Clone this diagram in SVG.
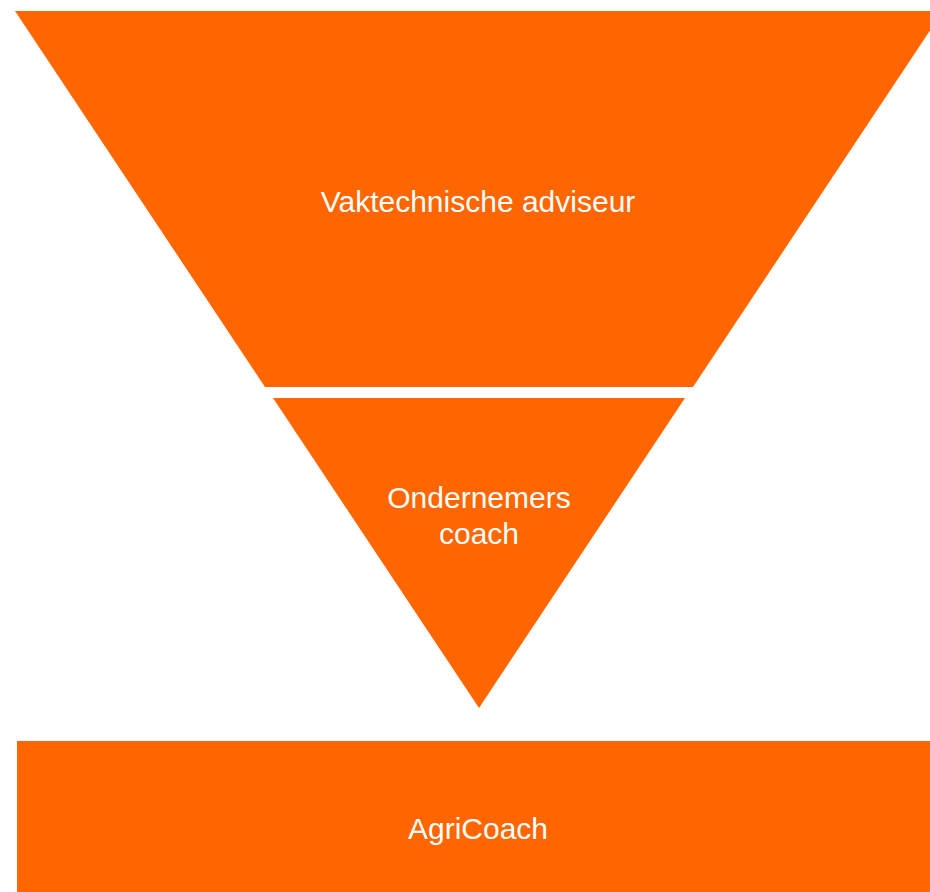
<svg xmlns="http://www.w3.org/2000/svg" width="930" height="892" viewBox="0 0 930 892">
<style>
.shape{fill:#ff6600}
.lbl{font-family:"Liberation Sans",Arial,sans-serif;font-size:30px;font-weight:300;fill:#ffffff;text-anchor:middle}
</style>
<rect width="930" height="892" fill="#ffffff"/>
<g id="vaktechnische-adviseur">
<polygon class="shape" points="15,11 943,11 693,387 265,387"/>
<text class="lbl" x="478" y="212">Vaktechnische adviseur</text>
</g>
<g id="ondernemers-coach">
<polygon class="shape" points="273,398 685,398 479,708"/>
<text class="lbl" x="479" y="508">Ondernemers</text>
<text class="lbl" x="479" y="544">coach</text>
</g>
<g id="agricoach">
<rect class="shape" x="17" y="741" width="920" height="160"/>
<text class="lbl" x="478" y="839">AgriCoach</text>
</g>
<g id="connectors"></g>
</svg>
